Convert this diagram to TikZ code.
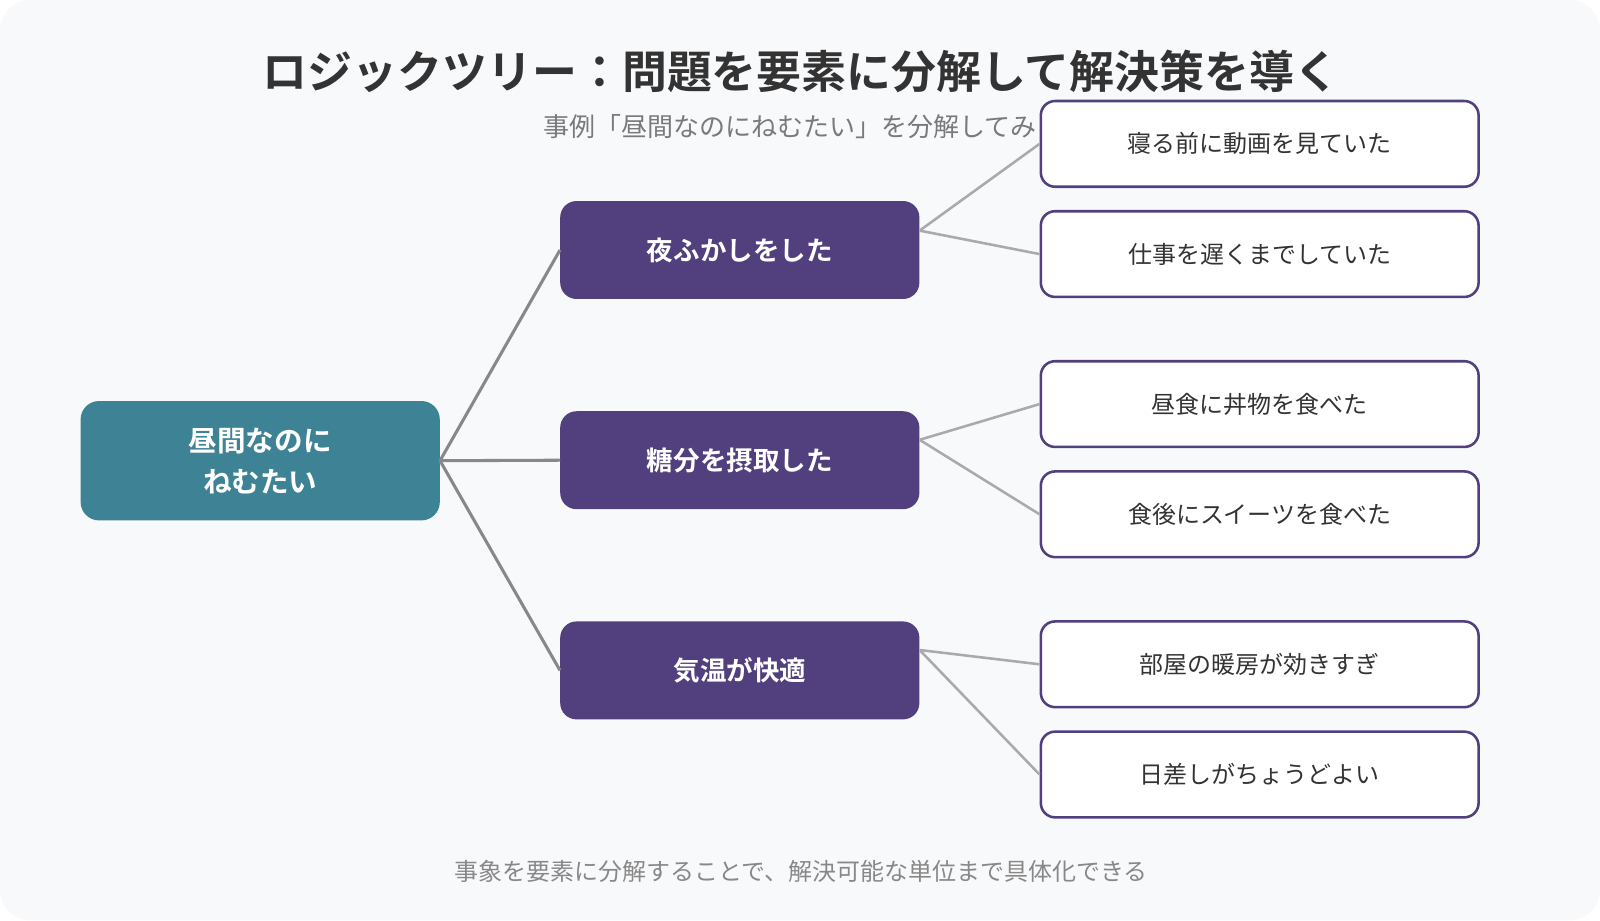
\documentclass[tikz,border=0pt]{standalone}
\usepackage{fontspec}
\setmainfont{Noto Sans CJK JP}[BoldFont={Noto Sans CJK JP Bold}]
\begin{document}
\begin{tikzpicture}[x=1pt,y=-1pt,
  root/.style={fill=rootc,rounded corners=18pt,minimum width=352pt,minimum height=117pt,text=white,font=\fontsize{28}{40}\selectfont\bfseries,align=center,inner sep=0},
  mid/.style={fill=midc,rounded corners=16pt,minimum width=352pt,minimum height=96pt,text=white,font=\fontsize{26}{30}\selectfont\bfseries,inner sep=0},
  leaf/.style={fill=white,draw=midc,line width=2.5pt,rounded corners=14pt,minimum width=429pt,minimum height=84pt,text=txt,font=\fontsize{23.5}{28}\selectfont,inner sep=0},
  l1/.style={draw=gray88,line width=3pt},
  l2/.style={draw=grayaa,line width=2.5pt}]
\definecolor{rootc}{HTML}{3E8395}
\definecolor{midc}{HTML}{513F7E}
\definecolor{txt}{HTML}{333333}
\definecolor{gray88}{HTML}{888888}
\definecolor{grayaa}{HTML}{AAAAAA}
\definecolor{bg}{HTML}{F8F9FB}
\useasboundingbox (0,0) rectangle (1568,902);
\fill[bg,rounded corners=30pt] (0,0) rectangle (1568,902);
\node[text=txt,font=\fontsize{44}{48}\selectfont\bfseries] (title) at (785,70) {ロジックツリー：問題を要素に分解して解決策を導く};
\node[text=gray88!90!black,font=\fontsize{25.5}{28}\selectfont,anchor=west] (sub) at (529,124) {事例「昼間なのにねむたい」を分解してみよう};
\node[root] (r) at (255,451.5) {昼間なのに\\ねむたい};
\node[mid] (m1) at (725,245) {夜ふかしをした};
\node[mid] (m2) at (725,451) {糖分を摂取した};
\node[mid] (m3) at (725,657) {気温が快適};
\node[leaf] (a1) at (1234.5,141) {寝る前に動画を見ていた};
\node[leaf] (a2) at (1234.5,249) {仕事を遅くまでしていた};
\node[leaf] (b1) at (1234.5,396) {昼食に丼物を食べた};
\node[leaf] (b2) at (1234.5,504) {食後にスイーツを食べた};
\node[leaf] (c1) at (1234.5,651) {部屋の暖房が効きすぎ};
\node[leaf] (c2) at (1234.5,759) {日差しがちょうどよい};
\node[text=gray88,font=\fontsize{23.5}{26}\selectfont] (foot) at (785,854) {事象を要素に分解することで、解決可能な単位まで具体化できる};
\foreach \m in {m1,m2,m3} \draw[l1] (r.east) -- (\m.west);
\coordinate (s1) at ([yshift=19pt]m1.east);
\coordinate (s2) at ([yshift=20pt]m2.east);
\coordinate (s3) at ([yshift=20pt]m3.east);
\draw[l2] (s1) -- (a1.west); \draw[l2] (s1) -- (a2.west);
\draw[l2] (s2) -- (b1.west); \draw[l2] (s2) -- (b2.west);
\draw[l2] (s3) -- (c1.west); \draw[l2] (s3) -- (c2.west);
\end{tikzpicture}
\end{document}
